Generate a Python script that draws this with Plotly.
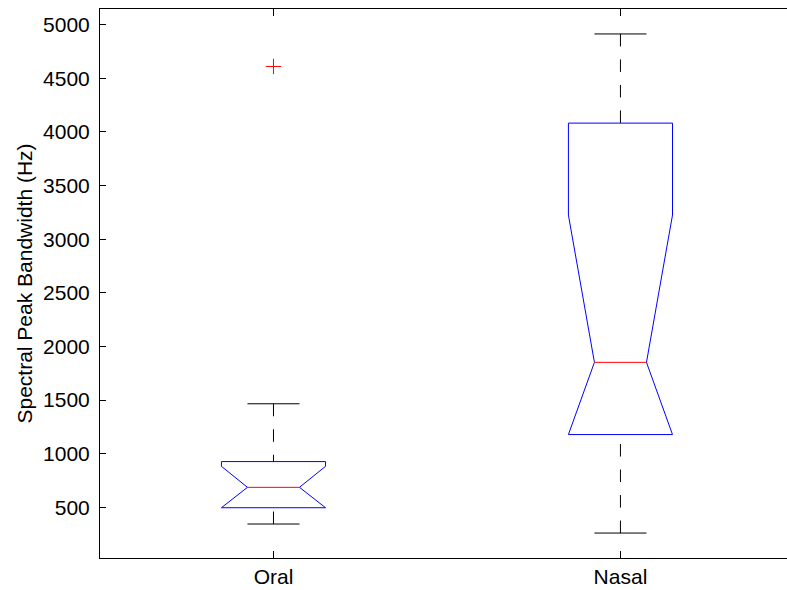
import plotly.graph_objects as go

# ---- data ----
categories = ["Oral", "Nasal"]
positions = [1, 2]
q1 = [497, 1179]
median = [687, 1852]
q3 = [927, 4082]
notch_lo = [491, 479]
notch_hi = [883, 3225]
whisker_lo = [345, 261]
whisker_hi = [1466, 4913]
outlier_pos = [1]
outlier_val = [4610]

y_ticks = [500, 1000, 1500, 2000, 2500, 3000, 3500, 4000, 4500, 5000]

# ---- style ----
W = 0.15      # box half-width
WN = 0.075    # notch half-width at median
WC = 0.075    # cap half-width
BLUE = "#0000FF"
RED = "#FF0000"
FONT = "Liberation Sans, Arial, sans-serif"
FS = 21

fig = go.Figure()

for p, a, m, b, nl, nh, wl, wh in zip(positions, q1, median, q3, notch_lo, notch_hi,
                                      whisker_lo, whisker_hi):
    nl_c = max(nl, a)
    nh_c = min(nh, b)
    # box outline with notch
    xs = [p - W, p - W, p - WN, p - W, p - W, p + W, p + W, p + WN, p + W, p + W, p - W]
    ys = [a, nl_c, m, nh_c, b, b, nh_c, m, nl_c, a, a]
    fig.add_trace(go.Scatter(x=xs, y=ys, mode="lines",
                             line=dict(color=BLUE, width=1), hoverinfo="skip"))
    # median
    fig.add_trace(go.Scatter(x=[p - WN, p + WN], y=[m, m], mode="lines",
                             line=dict(color=RED, width=1), hoverinfo="skip"))
    # whiskers (dashed) drawn from whisker end toward the box
    fig.add_trace(go.Scatter(x=[p, p], y=[wh, b], mode="lines",
                             line=dict(color="black", width=1, dash="12.5px,13px"),
                             hoverinfo="skip"))
    fig.add_trace(go.Scatter(x=[p, p], y=[wl, a], mode="lines",
                             line=dict(color="black", width=1, dash="12.5px,13px"),
                             hoverinfo="skip"))
    # caps
    fig.add_trace(go.Scatter(x=[p - WC, p + WC], y=[wh, wh], mode="lines",
                             line=dict(color="black", width=1), hoverinfo="skip"))
    fig.add_trace(go.Scatter(x=[p - WC, p + WC], y=[wl, wl], mode="lines",
                             line=dict(color="black", width=1), hoverinfo="skip"))

# outliers
fig.add_trace(go.Scatter(x=outlier_pos, y=outlier_val, mode="markers",
                         marker=dict(symbol="cross-thin", size=11,
                                     line=dict(color=RED, width=1)),
                         hoverinfo="skip"))

data_min = min(whisker_lo + outlier_val)
data_max = max(whisker_hi + outlier_val)
pad = 0.05 * (data_max - data_min)

fig.update_layout(
    width=787, height=590,
    margin=dict(l=100, r=0, t=9, b=32),
    paper_bgcolor="white", plot_bgcolor="white",
    showlegend=False,
    font=dict(family=FONT, size=FS, color="black"),
    xaxis=dict(
        range=[0.5, 2.48],
        tickmode="array", tickvals=positions, ticktext=categories,
        ticks="inside", ticklen=7, tickcolor="black", tickwidth=1,
        showline=True, linecolor="black", linewidth=1, mirror="ticks",
        showgrid=False, zeroline=False,
        tickfont=dict(family=FONT, size=FS, color="black"),
    ),
    yaxis=dict(
        range=[data_min - pad, data_max + pad],
        tickmode="array", tickvals=y_ticks,
        ticks="inside", ticklen=6, tickcolor="black", tickwidth=1,
        showline=True, linecolor="black", linewidth=1, mirror=False,
        showgrid=False, zeroline=False,
        ticklabelstandoff=5,
        tickfont=dict(family=FONT, size=FS, color="black"),
    ),
    annotations=[dict(
        text="Spectral Peak Bandwidth (Hz)", textangle=-90,
        xref="paper", yref="paper", x=-0.1106, y=0.5,
        xanchor="center", yanchor="middle", showarrow=False,
        font=dict(family=FONT, size=FS, color="black"),
    )],
)

fig.write_html(
    "out.html",
    config={"displayModeBar": False},
    post_script="document.body.style.margin='0';document.body.style.overflow='hidden';",
)
